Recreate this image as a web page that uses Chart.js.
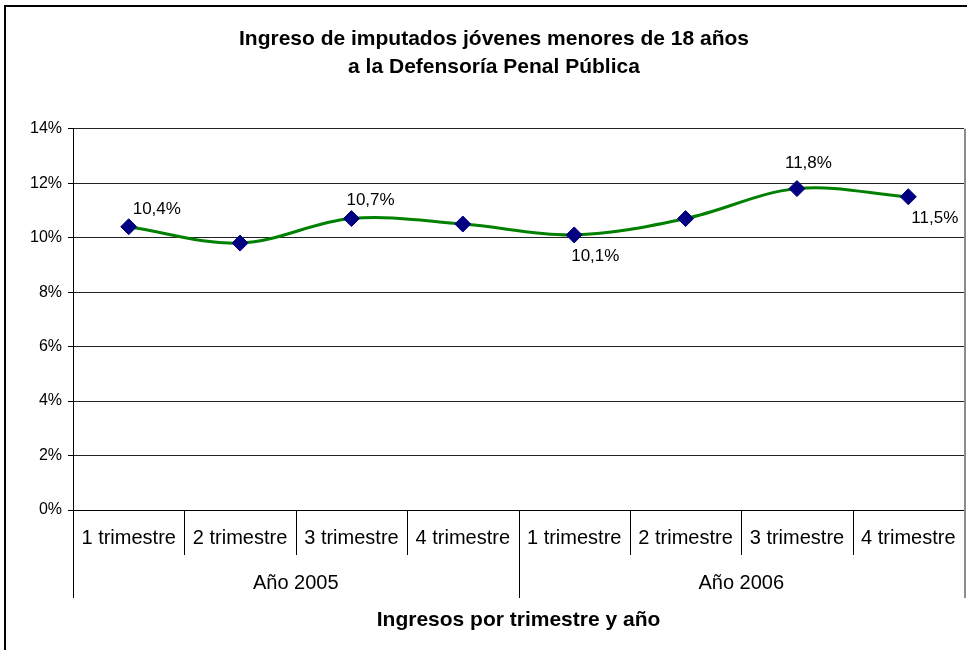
<!DOCTYPE html>
<html>
<head>
<meta charset="utf-8">
<script src="https://cdn.jsdelivr.net/npm/chart.js@4"></script>
<style>
    body { margin: 0; overflow: hidden; background: #fff; }
    #frame {
        position: absolute; left: 4px; top: 5px; width: 1100px; height: 800px;
        border-left: 2px solid #000; border-top: 2px solid #000;
    }
    #wrap { position: absolute; left: 0; top: 0; width: 990px; height: 650px; }
</style>
</head>
<body>
<div id="frame"></div>
<div id="wrap"><canvas id="ingresoChart"></canvas></div>
<script>
// Data
const quarters = ['1 trimestre', '2 trimestre', '3 trimestre', '4 trimestre',
                  '1 trimestre', '2 trimestre', '3 trimestre', '4 trimestre'];
const years = ['Año 2005', 'Año 2006'];
const ingresoPct = [10.4, 9.8, 10.7, 10.5, 10.1, 10.7, 11.8, 11.5];
const yTicks = [0, 2, 4, 6, 8, 10, 12, 14];

// which points carry a value label, and where (dx, dy from the marker)
const labelOffsets = [[4, -17], null, [-5, -18], null, [-3, 21], null, [-12, -25], [3, 22]];

const FONT = "'Liberation Sans', Arial, sans-serif";

const valueLabels = {
    id: 'valueLabels',
    afterDatasetsDraw(chart) {
        const ctx = chart.ctx;
        const meta = chart.getDatasetMeta(0);
        ctx.save();
        ctx.font = '17px ' + FONT;
        ctx.fillStyle = '#000';
        ctx.textAlign = 'left';
        ctx.textBaseline = 'middle';
        meta.data.forEach((pt, i) => {
            const off = labelOffsets[i];
            if (!off) return;
            const txt = ingresoPct[i].toFixed(1).replace('.', ',') + '%';
            ctx.fillText(txt, pt.x + off[0], pt.y + off[1]);
        });
        ctx.restore();
    }
};

// cell separators of the two category rows + grey right edge
const categoryRows = {
    id: 'categoryRows',
    afterDraw(chart) {
        const ctx = chart.ctx;
        const area = chart.chartArea;
        const x = chart.scales.x;
        const x2 = chart.scales.x2;
        const rowEnd = x.top + 45;
        const yearEnd = x2.top + 32;
        ctx.save();
        ctx.strokeStyle = '#000';
        ctx.lineWidth = 1;
        ctx.beginPath();
        for (let i = 0; i < quarters.length; i++) {
            const px = Math.round(x.getPixelForValue(i - 0.5)) + 0.5;
            ctx.moveTo(px, x.top);
            ctx.lineTo(px, rowEnd);
        }
        for (let j = 0; j < years.length; j++) {
            const px = Math.round(x2.getPixelForValue(j - 0.5)) + 0.5;
            ctx.moveTo(px, x.top);
            ctx.lineTo(px, yearEnd);
        }
        ctx.stroke();
        ctx.strokeStyle = '#8c8c8c';
        ctx.lineWidth = 2;
        ctx.beginPath();
        ctx.moveTo(area.right + 1, area.top);
        ctx.lineTo(area.right + 1, yearEnd);
        ctx.stroke();
        ctx.restore();
    }
};

document.addEventListener('DOMContentLoaded', function() {
    const ctx = document.getElementById('ingresoChart').getContext('2d');
    new Chart(ctx, {
        type: 'line',
        data: {
            labels: quarters,
            datasets: [{
                data: ingresoPct,
                borderColor: '#008000',
                borderWidth: 3,
                tension: 0.35,
                fill: false,
                pointStyle: 'rectRot',
                pointRadius: 8,
                pointHoverRadius: 8,
                pointBackgroundColor: '#000080',
                pointBorderColor: '#000080',
                pointBorderWidth: 1
            }]
        },
        plugins: [valueLabels, categoryRows],
        options: {
            responsive: true,
            maintainAspectRatio: false,
            animation: false,
            layout: { padding: { left: 24, right: 26, top: 0, bottom: 17.4 } },
            scales: {
                y: {
                    min: 0,
                    max: 14,
                    afterBuildTicks: axis => { axis.ticks = yTicks.map(v => ({ value: v })); },
                    ticks: {
                        padding: 6,
                        color: '#000',
                        font: { family: FONT, size: 16 },
                        callback: v => v + '%'
                    },
                    grid: { color: '#222', tickLength: 5, tickColor: '#000' },
                    border: { color: '#000' }
                },
                x: {
                    weight: 0,
                    offset: true,
                    grid: { display: false, drawTicks: false },
                    border: { display: true, color: '#000' },
                    ticks: {
                        padding: 16,
                        maxRotation: 0,
                        autoSkip: false,
                        color: '#000',
                        font: { family: FONT, size: 20 }
                    }
                },
                x2: {
                    type: 'category',
                    position: 'bottom',
                    weight: 1,
                    labels: years,
                    offset: true,
                    grid: { display: false, drawTicks: false },
                    border: { display: false },
                    ticks: {
                        padding: 5,
                        maxRotation: 0,
                        color: '#000',
                        font: { family: FONT, size: 20 }
                    },
                    title: {
                        display: true,
                        text: 'Ingresos por trimestre y año',
                        color: '#000',
                        font: { family: FONT, size: 21, weight: 'bold' },
                        padding: { top: 7.4, bottom: 0 }
                    }
                }
            },
            plugins: {
                legend: { display: false },
                tooltip: { enabled: false },
                title: {
                    display: true,
                    text: ['Ingreso de imputados jóvenes menores de 18 años',
                           'a la Defensoría Penal Pública'],
                    color: '#000',
                    font: { family: FONT, size: 21, weight: 'bold', lineHeight: 1.35 },
                    padding: { top: 25, bottom: 47 }
                }
            }
        }
    });
});
</script>
</body>
</html>
